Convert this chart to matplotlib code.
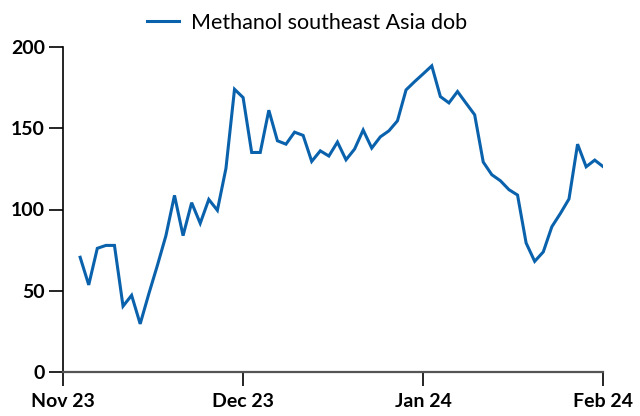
import matplotlib
matplotlib.use("Agg")
import matplotlib.pyplot as plt
import numpy as np

# Valores (puntos equiespaciados)
precio = [70.6, 53.6, 76.1, 77.9, 77.9, 40.5, 47.2, 29.6, 48.0, 65.5,
          83.9, 108.7, 83.9, 104.2, 91.5, 106.2, 99.5, 125.3, 174.0, 168.9,
          135.1, 135.1, 161.1, 142.3, 140.2, 147.6, 145.6, 129.6, 136.1, 132.9,
          141.5, 130.6, 137.2, 148.9, 137.8, 144.7, 148.4, 154.6, 173.6, 178.7,
          183.5, 188.4, 169.5, 165.6, 172.6, 165.4, 158.3, 129.2, 121.4, 117.7,
          112.2, 108.9, 79.4, 68.1, 73.9, 89.4, 97.6, 106.5, 140.2, 126.3,
          130.4, 126.3]
tick_pos = [-2, 19, 40, 61]
tick_labels = ["Nov 23", "Dec 23", "Jan 24", "Feb 24"]
y_ticks = [0, 50, 100, 150, 200]
serie = "Methanol southeast Asia dob"

plt.rcParams["font.family"] = ["Lato", "DejaVu Sans"]

fig = plt.figure(figsize=(6.4, 4.16), dpi=100)
ax = fig.add_axes([63 / 640, 1 - 372 / 416, (603.3 - 63) / 640, (372 - 47) / 416])

x = np.arange(len(precio))
ax.plot(x, precio, color="#0a62ad", lw=2.2, label=serie, solid_joinstyle="miter")

ax.set_xlim(tick_pos[0], tick_pos[-1])
ax.set_ylim(0, 200)
ax.set_xticks(tick_pos)
ax.set_xticklabels(tick_labels, fontweight="bold", fontsize=14)
ax.set_yticks(y_ticks)
ax.set_yticklabels([str(v) for v in y_ticks], fontweight="bold", fontsize=14)

for s in ["top", "right"]:
    ax.spines[s].set_visible(False)
ax.spines["left"].set_color("black")
ax.spines["bottom"].set_color("#555555")
ax.spines["left"].set_linewidth(1.2)
ax.spines["bottom"].set_linewidth(1.6)
ax.tick_params(axis="both", direction="out", length=10, width=1.2, color="black", pad=3)
ax.tick_params(axis="x", pad=5)

fig.legend(loc="center", bbox_to_anchor=(307 / 640, 1 - 23 / 416), frameon=False,
           fontsize=15.5, handlelength=1.5, handletextpad=0.55)

fig.savefig("out.png", dpi=100)
